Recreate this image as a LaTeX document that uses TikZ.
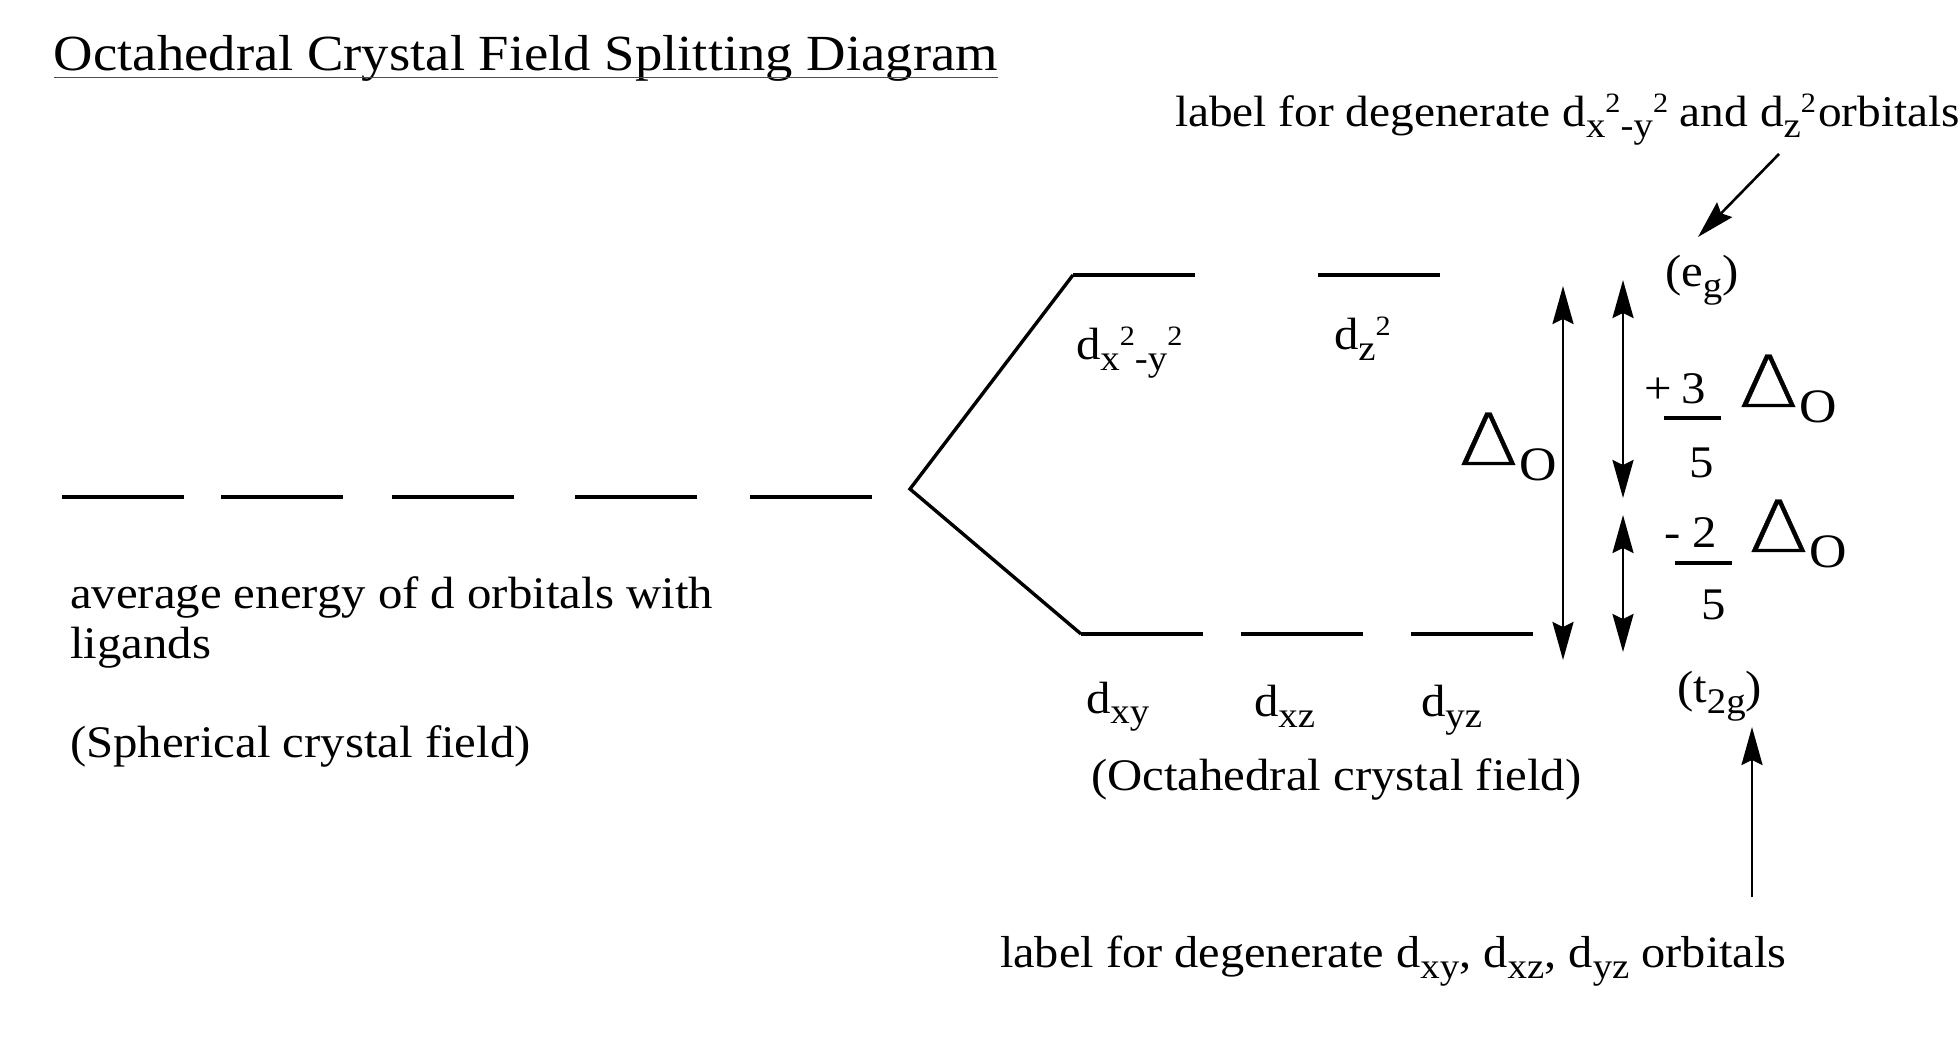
\documentclass[tikz,border=0pt]{standalone}
\usepackage{fontspec}
\setmainfont[FakeStretch=1.08]{Liberation Serif}
\newfontfamily\deltafont[FakeBold=0.5]{DejaVu Sans ExtraLight}
\usepackage{graphicx}
\usetikzlibrary{arrows.meta}
\usetikzlibrary{positioning}
\tikzset{>={Stealth[length=19pt,width=10.5pt,inset=2.5pt]}}
\tikzset{level-line/.style={fill=black, inner sep=0, outer sep=0, minimum width=61pt, minimum height=2.2pt}}
\tikzset{branch-line/.style={line width=1.7pt}}
\tikzset{energy-arrow/.style={line width=1.3pt}}
\tikzset{frac-bar/.style={fill=black, inner sep=0, outer sep=0, minimum width=28.5pt, minimum height=2pt}}
\tikzset{text-label/.style={anchor=base west, inner sep=0, outer sep=0, font=\fontsize{22.6}{25}\selectfont}}
\newcommand{\lowsub}[1]{\raisebox{-5.5pt}{\fontsize{18}{18}\selectfont #1}}
\newcommand{\upsup}[1]{\raisebox{7pt}{\fontsize{14}{14}\selectfont #1}}
\newcommand{\deltao}{\scalebox{1.2}[1]{\deltafont\fontsize{36}{36}\selectfont Δ}\kern0.5pt\raisebox{-8pt}{\fontsize{24}{24}\selectfont O}}

\begin{document}
\begin{tikzpicture}[x=0.5pt, y=-0.5pt]
            \useasboundingbox (0,0) rectangle (1960,1042);

            \node[text-label, font=\fontsize{25.3}{28}\selectfont] (title) at (54,71) {Octahedral Crystal Field Splitting Diagram};
            \draw[line width=0.5pt, black!70] ([yshift=-3.5pt]title.base west) -- ([yshift=-3.5pt]title.base east);

            \node[level-line] (level1) at (123,497) {};
            \node[level-line, right=18.5pt of level1] (level2) {};
            \node[level-line, right=24.5pt of level2] (level3) {};
            \node[level-line, right=30.5pt of level3] (level4) {};
            \node[level-line, right=26.5pt of level4] (level5) {};

            \coordinate (split) at (910,489);

            \node[level-line] (eg1) at (1134,275) {};
            \node[level-line, right=61.5pt of eg1] (eg2) {};

            \node[level-line] (t2g1) at (1142,634) {};
            \node[level-line, right=19pt of t2g1] (t2g2) {};
            \node[level-line, right=24pt of t2g2] (t2g3) {};

            \draw[branch-line] (eg1.west) -- (split) -- (t2g1.west);

            \node[text-label] (avg1) at (70,609) {average energy of d orbitals with};
            \node[text-label] (avg2) at (70,659) {ligands};
            \node[text-label] (spherical) at (70,757) {(Spherical crystal field)};

            \node[text-label] (dx2y2) at (1076,360) {d\lowsub{x}\upsup{2}\lowsub{-y}\upsup{2}};
            \node[text-label] (dz2) at (1334,350) {d\lowsub{z}\upsup{2}};
            \node[text-label] (dxy) at (1086,713) {d\lowsub{xy}};
            \node[text-label] (dxz) at (1254,717) {d\lowsub{xz}};
            \node[text-label] (dyz) at (1421,717) {d\lowsub{yz}};
            \node[text-label] (octahedral) at (1091,790) {(Octahedral crystal field)};

            \node[text-label] (eglabel) at (1665,287) {(e\lowsub{g})};
            \node[text-label] (t2glabel) at (1677,703) {(t\lowsub{2g})};

            \node[text-label] (delta) at (1459,465) {\deltao};
            \node[text-label] (plus) at (1644,404) {+};
            \node[text-label] (three) at (1681,404) {3};
            \node[frac-bar] (bar1) at (1692,418) {};
            \node[text-label] (five1) at (1689,478) {5};
            \node[text-label] (delta1) at (1739,407) {\deltao};

            \node[text-label] (minus) at (1664,548) {-};
            \node[text-label] (two) at (1692,548) {2};
            \node[frac-bar] (bar2) at (1703,563) {};
            \node[text-label] (five2) at (1701,620) {5};
            \node[text-label] (delta2) at (1749,552) {\deltao};

            \node[text-label, font=\fontsize{21.9}{25}\selectfont] (toplabel) at (1175,127) {label for degenerate d\lowsub{x}\upsup{2}\lowsub{-y}\upsup{2} and d\lowsub{z}\upsup{2}\kern1pt orbitals};
            \node[text-label, font=\fontsize{22.4}{25}\selectfont] (botlabel) at (1000,967) {label for degenerate d\lowsub{xy}, d\lowsub{xz}, d\lowsub{yz} orbitals};

            \coordinate (gaptop) at (1563,286);
            \coordinate (gapbot) at (1563,660);
            \coordinate (uptop) at (1623,280);
            \coordinate (upbot) at (1623,498);
            \coordinate (downtop) at (1623,515);
            \coordinate (downbot) at (1623,652);
            \coordinate (egfrom) at (1779,154);
            \coordinate (egto) at (1698,237);
            \coordinate (t2gfrom) at (1752,897);
            \coordinate (t2gto) at (1752,727);

            \draw[<->, energy-arrow] (gaptop) -- (gapbot);
            \draw[<->, energy-arrow] (uptop) -- (upbot);
            \draw[<->, energy-arrow] (downtop) -- (downbot);
            \draw[->, energy-arrow] (egfrom) -- (egto);
            \draw[->, energy-arrow] (t2gfrom) -- (t2gto);
        \end{tikzpicture}
\end{document}
